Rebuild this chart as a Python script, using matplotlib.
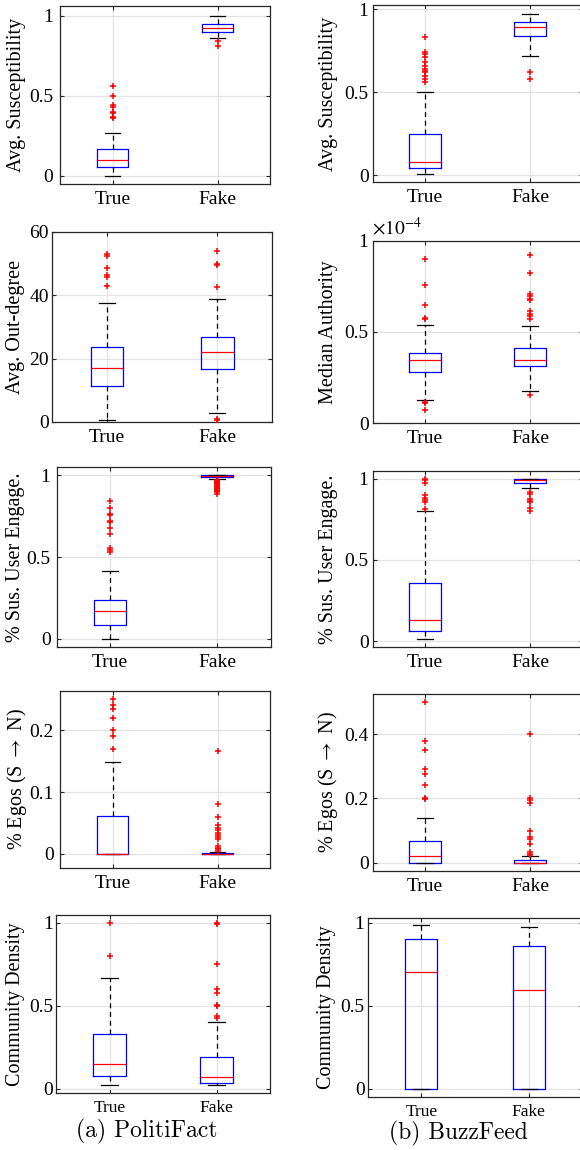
import matplotlib
matplotlib.use("Agg")
import matplotlib.pyplot as plt
from matplotlib.ticker import FuncFormatter, FixedLocator

plt.rcParams['font.family'] = ['Liberation Serif', 'DejaVu Serif']
plt.rcParams['mathtext.fontset'] = 'stix'

groups = ["True", "Fake"]

# ---- PolitiFact -------------------------------------------------------
pf_susc = [
    dict(med=0.10, q1=0.055, q3=0.17, whislo=0.0, whishi=0.27,
         fliers=[0.56, 0.50, 0.44, 0.43, 0.40, 0.39, 0.37, 0.36]),
    dict(med=0.925, q1=0.90, q3=0.945, whislo=0.86, whishi=1.0,
         fliers=[0.84, 0.81]),
]
pf_outdeg = [
    dict(med=17.1, q1=11.4, q3=23.8, whislo=0.7, whishi=37.7,
         fliers=[53.0, 52.5, 48.6, 46.5, 45.8, 42.9]),
    dict(med=22.1, q1=16.8, q3=26.9, whislo=2.9, whishi=38.8,
         fliers=[53.9, 49.8, 49.5, 42.5, 1.0, 0.5]),
]
pf_engage = [
    dict(med=0.168, q1=0.086, q3=0.234, whislo=0.0, whishi=0.412,
         fliers=[0.840, 0.799, 0.762, 0.758, 0.723, 0.717, 0.680, 0.639,
                 0.557, 0.543, 0.531]),
    dict(med=0.996, q1=0.99, q3=1.0, whislo=0.977, whishi=1.0,
         fliers=[0.972, 0.968, 0.963, 0.958, 0.953, 0.948, 0.943, 0.937,
                 0.931, 0.925, 0.918, 0.911, 0.903, 0.895, 0.886]),
]
pf_egos = [
    dict(med=0.0, q1=0.0, q3=0.062, whislo=0.0, whishi=0.149,
         fliers=[0.2507, 0.241, 0.235, 0.2205, 0.200, 0.190, 0.169]),
    dict(med=0.0, q1=0.0, q3=0.002, whislo=0.0, whishi=0.003,
         fliers=[0.167, 0.080, 0.059, 0.047, 0.042, 0.038, 0.034, 0.031,
                 0.028, 0.024, 0.013, 0.0097, 0.007, 0.004]),
]
pf_density = [
    dict(med=0.151, q1=0.078, q3=0.333, whislo=0.022, whishi=0.667,
         fliers=[1.0, 0.80]),
    dict(med=0.070, q1=0.036, q3=0.193, whislo=0.020, whishi=0.40,
         fliers=[1.0, 0.996, 0.751, 0.602, 0.576, 0.502, 0.496, 0.44, 0.426]),
]

# ---- BuzzFeed ---------------------------------------------------------
bf_susc = [
    dict(med=0.08, q1=0.046, q3=0.25, whislo=0.01, whishi=0.50,
         fliers=[0.83, 0.74, 0.73, 0.71, 0.68, 0.66, 0.64, 0.63, 0.62,
                 0.60, 0.58, 0.56]),
    dict(med=0.895, q1=0.84, q3=0.92, whislo=0.72, whishi=0.97,
         fliers=[0.62, 0.58]),
]
bf_authority = [
    dict(med=0.344e-4, q1=0.280e-4, q3=0.384e-4, whislo=0.124e-4, whishi=0.541e-4,
         fliers=[0.903e-4, 0.757e-4, 0.651e-4, 0.578e-4, 0.574e-4,
                 0.115e-4, 0.108e-4, 0.069e-4]),
    dict(med=0.346e-4, q1=0.313e-4, q3=0.410e-4, whislo=0.174e-4, whishi=0.534e-4,
         fliers=[0.921e-4, 0.826e-4, 0.711e-4, 0.700e-4, 0.684e-4, 0.675e-4,
                 0.614e-4, 0.601e-4, 0.590e-4, 0.574e-4, 0.154e-4]),
]
bf_engage = [
    dict(med=0.133, q1=0.066, q3=0.361, whislo=0.012, whishi=0.799,
         fliers=[1.0, 0.99, 0.971, 0.90, 0.879, 0.867, 0.854, 0.814]),
    dict(med=0.992, q1=0.973, q3=1.0, whislo=0.943, whishi=1.0,
         fliers=[0.916, 0.908, 0.877, 0.865, 0.855, 0.822, 0.801]),
]
bf_egos = [
    dict(med=0.020, q1=0.0, q3=0.0665, whislo=0.0, whishi=0.138,
         fliers=[0.50, 0.379, 0.350, 0.293, 0.277, 0.243, 0.2005, 0.198]),
    dict(med=0.0, q1=0.0, q3=0.008, whislo=0.0, whishi=0.021,
         fliers=[0.40, 0.2015, 0.196, 0.186, 0.0997, 0.080, 0.073, 0.059,
                 0.033, 0.028, 0.023]),
]
bf_density = [
    dict(med=0.707, q1=0.0, q3=0.901, whislo=0.0, whishi=0.986, fliers=[]),
    dict(med=0.598, q1=0.0, q3=0.861, whislo=0.0, whishi=0.978, fliers=[]),
]

W, H = 580, 1150
PX = 0.72  # points per pixel at 100 dpi
fig = plt.figure(figsize=(W / 100, H / 100), dpi=100)


def make_axes(x0, y0, x1, y1):
    return fig.add_axes([x0 / W, 1 - y1 / H, (x1 - x0) / W, (y1 - y0) / H])


def fmt(v, _):
    return f"{v:g}"


def draw(ax, stats, ylabel, ylim, yticks, label_x, box, ypad, xsize,
         formatter=None):
    for s, lab in zip(stats, groups):
        s['label'] = lab
    ax.bxp(stats, positions=[1, 2], widths=0.3, showfliers=True,
           boxprops=dict(color='#0000ff', linewidth=0.9),
           medianprops=dict(color='#ff0000', linewidth=0.9),
           whiskerprops=dict(color='black', linewidth=0.9, linestyle=(0, (4, 3))),
           capprops=dict(color='black', linewidth=0.9),
           flierprops=dict(marker='+', markersize=4, markeredgewidth=1.1,
                           markeredgecolor='#ff0000', linestyle='none'),
           zorder=3)
    ax.set_xlim(0.5, 2.5)
    ax.set_ylim(*ylim)
    ax.yaxis.set_major_locator(FixedLocator(yticks))
    ax.yaxis.set_major_formatter(FuncFormatter(formatter or fmt))
    ax.grid(True, color='#e3e3e3', linewidth=0.9, zorder=0)
    ax.set_axisbelow(True)
    ax.tick_params(direction='in', top=True, right=True, length=3,
                   width=0.8, color='#262626')
    ax.tick_params(axis='y', labelsize=14, pad=ypad * PX)
    ax.tick_params(axis='x', labelsize=xsize, pad=7 * PX)
    for sp in ax.spines.values():
        sp.set_color('#262626')
        sp.set_linewidth(0.9)
    ax.set_ylabel(ylabel, fontsize=14.5, va='center')
    x0, _, x1, _ = box
    ax.yaxis.set_label_coords((label_x - x0) / (x1 - x0), 0.5)


layout = [
    # (stats, label, ylim, yticks, label centre x, box in pixels, y pad px, x label size)
    (pf_susc, 'Avg. Susceptibility', (-0.05, 1.06), [0, 0.5, 1], 17, (60, 6, 270, 184), 7, 14),
    (bf_susc, 'Avg. Susceptibility', (-0.04, 1.025), [0, 0.5, 1], 328, (372.5, 5, 582.5, 182), 4, 14),
    (pf_outdeg, 'Avg. Out-degree', (0, 60), [0, 20, 40, 60], 16, (52, 232, 272, 422), 3, 14),
    (bf_authority, 'Median Authority', (0, 1e-4), [0, 0.5e-4, 1e-4], 328, (372.5, 241, 582.5, 423), 4, 14),
    (pf_engage, '% Sus. User Engage.', (-0.051, 1.051), [0, 0.5, 1], 16, (56.5, 467, 270.5, 647), 6, 14),
    (bf_engage, '% Sus. User Engage.', (-0.035, 1.047), [0, 0.5, 1], 328, (372.5, 471, 582.5, 647), 4, 14),
    (pf_egos, r'% Egos (S $\rightarrow$ N)', (-0.023, 0.2636), [0, 0.1, 0.2], 17, (60, 691, 270, 868), 6, 14),
    (bf_egos, r'% Egos (S $\rightarrow$ N)', (-0.026, 0.525), [0, 0.2, 0.4], 328, (372.5, 694, 582.5, 871), 4, 14),
    (pf_density, 'Community Density', (-0.026, 1.048), [0, 0.5, 1], 16, (56, 915, 270, 1093), 3, 12.5),
    (bf_density, 'Community Density', (-0.05, 1.03), [0, 0.5, 1], 327, (367.5, 918, 582.5, 1097), 3, 12.5),
]

axes = []
for stats, lab, ylim, yt, lx, box, ypad, xsize in layout:
    ax = make_axes(*box)
    f = None
    if lab == 'Median Authority':
        f = lambda v, _: f"{v / 1e-4:g}"
    draw(ax, stats, lab, ylim, yt, lx, box, ypad, xsize, f)
    axes.append(ax)

# exponent marker for the authority panel
axes[3].text(0.0, 1.015, r'$\times10^{-4}$', transform=axes[3].transAxes,
             fontsize=14, ha='left', va='bottom')

# sub-figure captions
fig.text(147 / W, 1 - 1131 / H, '(a) PolitiFact', family='cmr10',
         fontsize=17, ha='center', va='center')
fig.text(458 / W, 1 - 1133 / H, '(b) BuzzFeed', family='cmr10',
         fontsize=17, ha='center', va='center')

fig.savefig('out.png', dpi=100)
